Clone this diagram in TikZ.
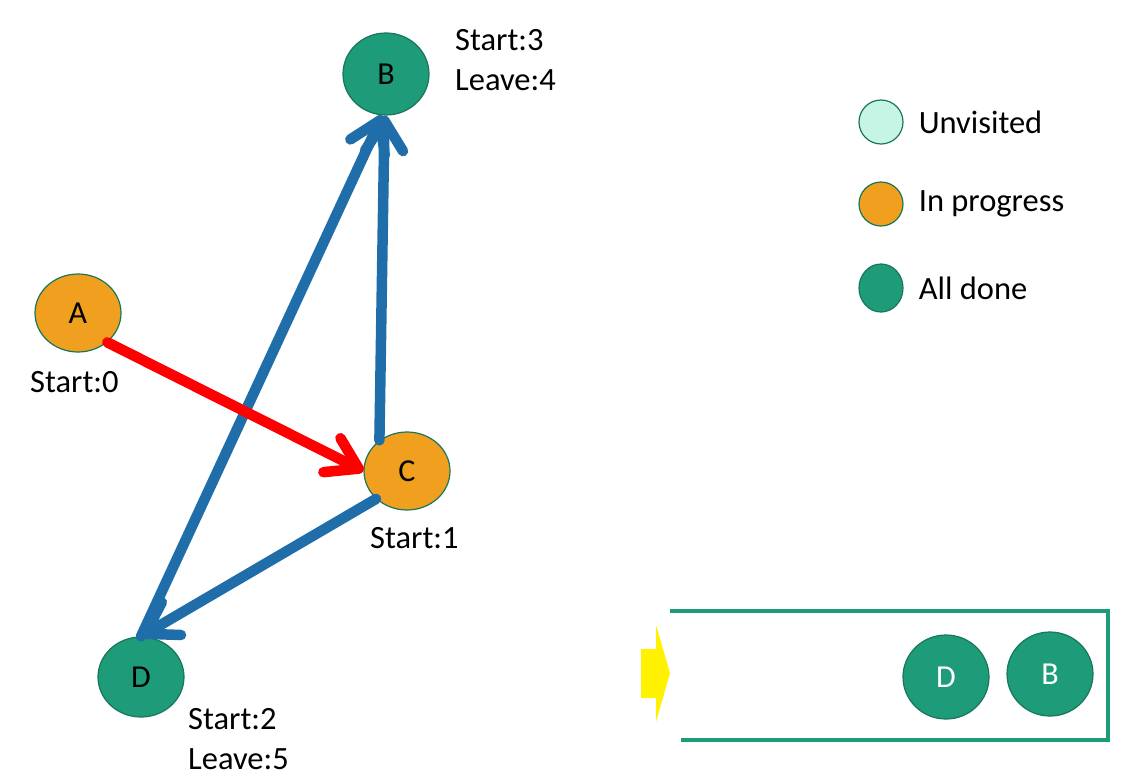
\documentclass[tikz,border=0pt]{standalone}
\usepackage{fontspec}
\setmainfont{Carlito}
\usetikzlibrary{positioning,arrows.meta,shapes.geometric}
\definecolor{busyorange}{HTML}{F0A01E}
\definecolor{donegreen}{HTML}{1E9B78}
\definecolor{mintfill}{HTML}{C6F5E6}
\definecolor{rimgreen}{HTML}{17765B}
\definecolor{edgeblue}{HTML}{1F6EAA}
\tikzset{
  vert/.style={ellipse, draw=rimgreen, line width=1.2pt, inner sep=0pt,
    minimum width=86pt, minimum height=78pt, font=\fontsize{32}{38}\selectfont},
  busy/.style={vert, fill=busyorange},
  done/.style={vert, fill=donegreen},
  todo/.style={vert, fill=mintfill},
  keydot/.style={minimum width=44pt, minimum height=44pt},
  info/.style={anchor=west, align=left, inner sep=0pt, font=\fontsize{32.5}{40}\selectfont},
  edge/.style={line width=10.5pt, line cap=round,
    -{Straight Barb[length=30pt, width=38pt, line cap=round, line join=round]}},
}
\begin{document}
\begin{tikzpicture}[x=1pt, y=-1pt]
\useasboundingbox (0,0) rectangle (1132,782);

% graph
\node[busy] (A) at (78,313) {A};
\node[done, minimum height=82pt] (B) at (386,74) {B};
\node[busy] (C) at (407,471) {C};
\node[done, minimum height=80pt] (D) at (141,677) {D};

\node[info] (tA) at (30,382) {Start:0};
\node[info] (tB) at (455,60) {Start:3\\Leave:4};
\node[info] (tC) at (370,538) {Start:1};
\node[info] (tD) at (188,739) {Start:2\\Leave:5};

\draw[edge, edgeblue] (C.132) -- (B.268);
\draw[edge, edgeblue] (D.north) -- (B.265);
\draw[edge, edgeblue] (C.222) -- (D.north);
\draw[edge, red] (A.-45) -- (C.west);

% legend
\node[todo, keydot] (kU) at (881,122) {};
\node[busy, keydot] (kP) at (881,204) {};
\node[done, keydot, minimum height=48pt] (kD) at (881,288) {};
\node[info, right=15pt of kU] (lU) {Unvisited};
\node[info, right=15pt of kP] (lP) {In progress};
\node[info, right=15pt of kD] (lD) {All done};

% stack
\coordinate (stl) at (670,611);
\coordinate (str) at (1108,611);
\coordinate (sbr) at (1108,740);
\coordinate (sbl) at (681,740);
\draw[donegreen, line width=4pt] (stl) -- (str) -- (sbr) -- (sbl);
\fill[yellow] (641,649) -- (656,649) -- (656,625) -- (670,673)
  -- (656,722) -- (656,698) -- (641,698) -- cycle;
\node[done, text=white, minimum height=84pt] (sD) at (946,677) {D};
\node[done, text=white, minimum height=84pt] (sB) at (1050,674) {B};
\end{tikzpicture}
\end{document}
